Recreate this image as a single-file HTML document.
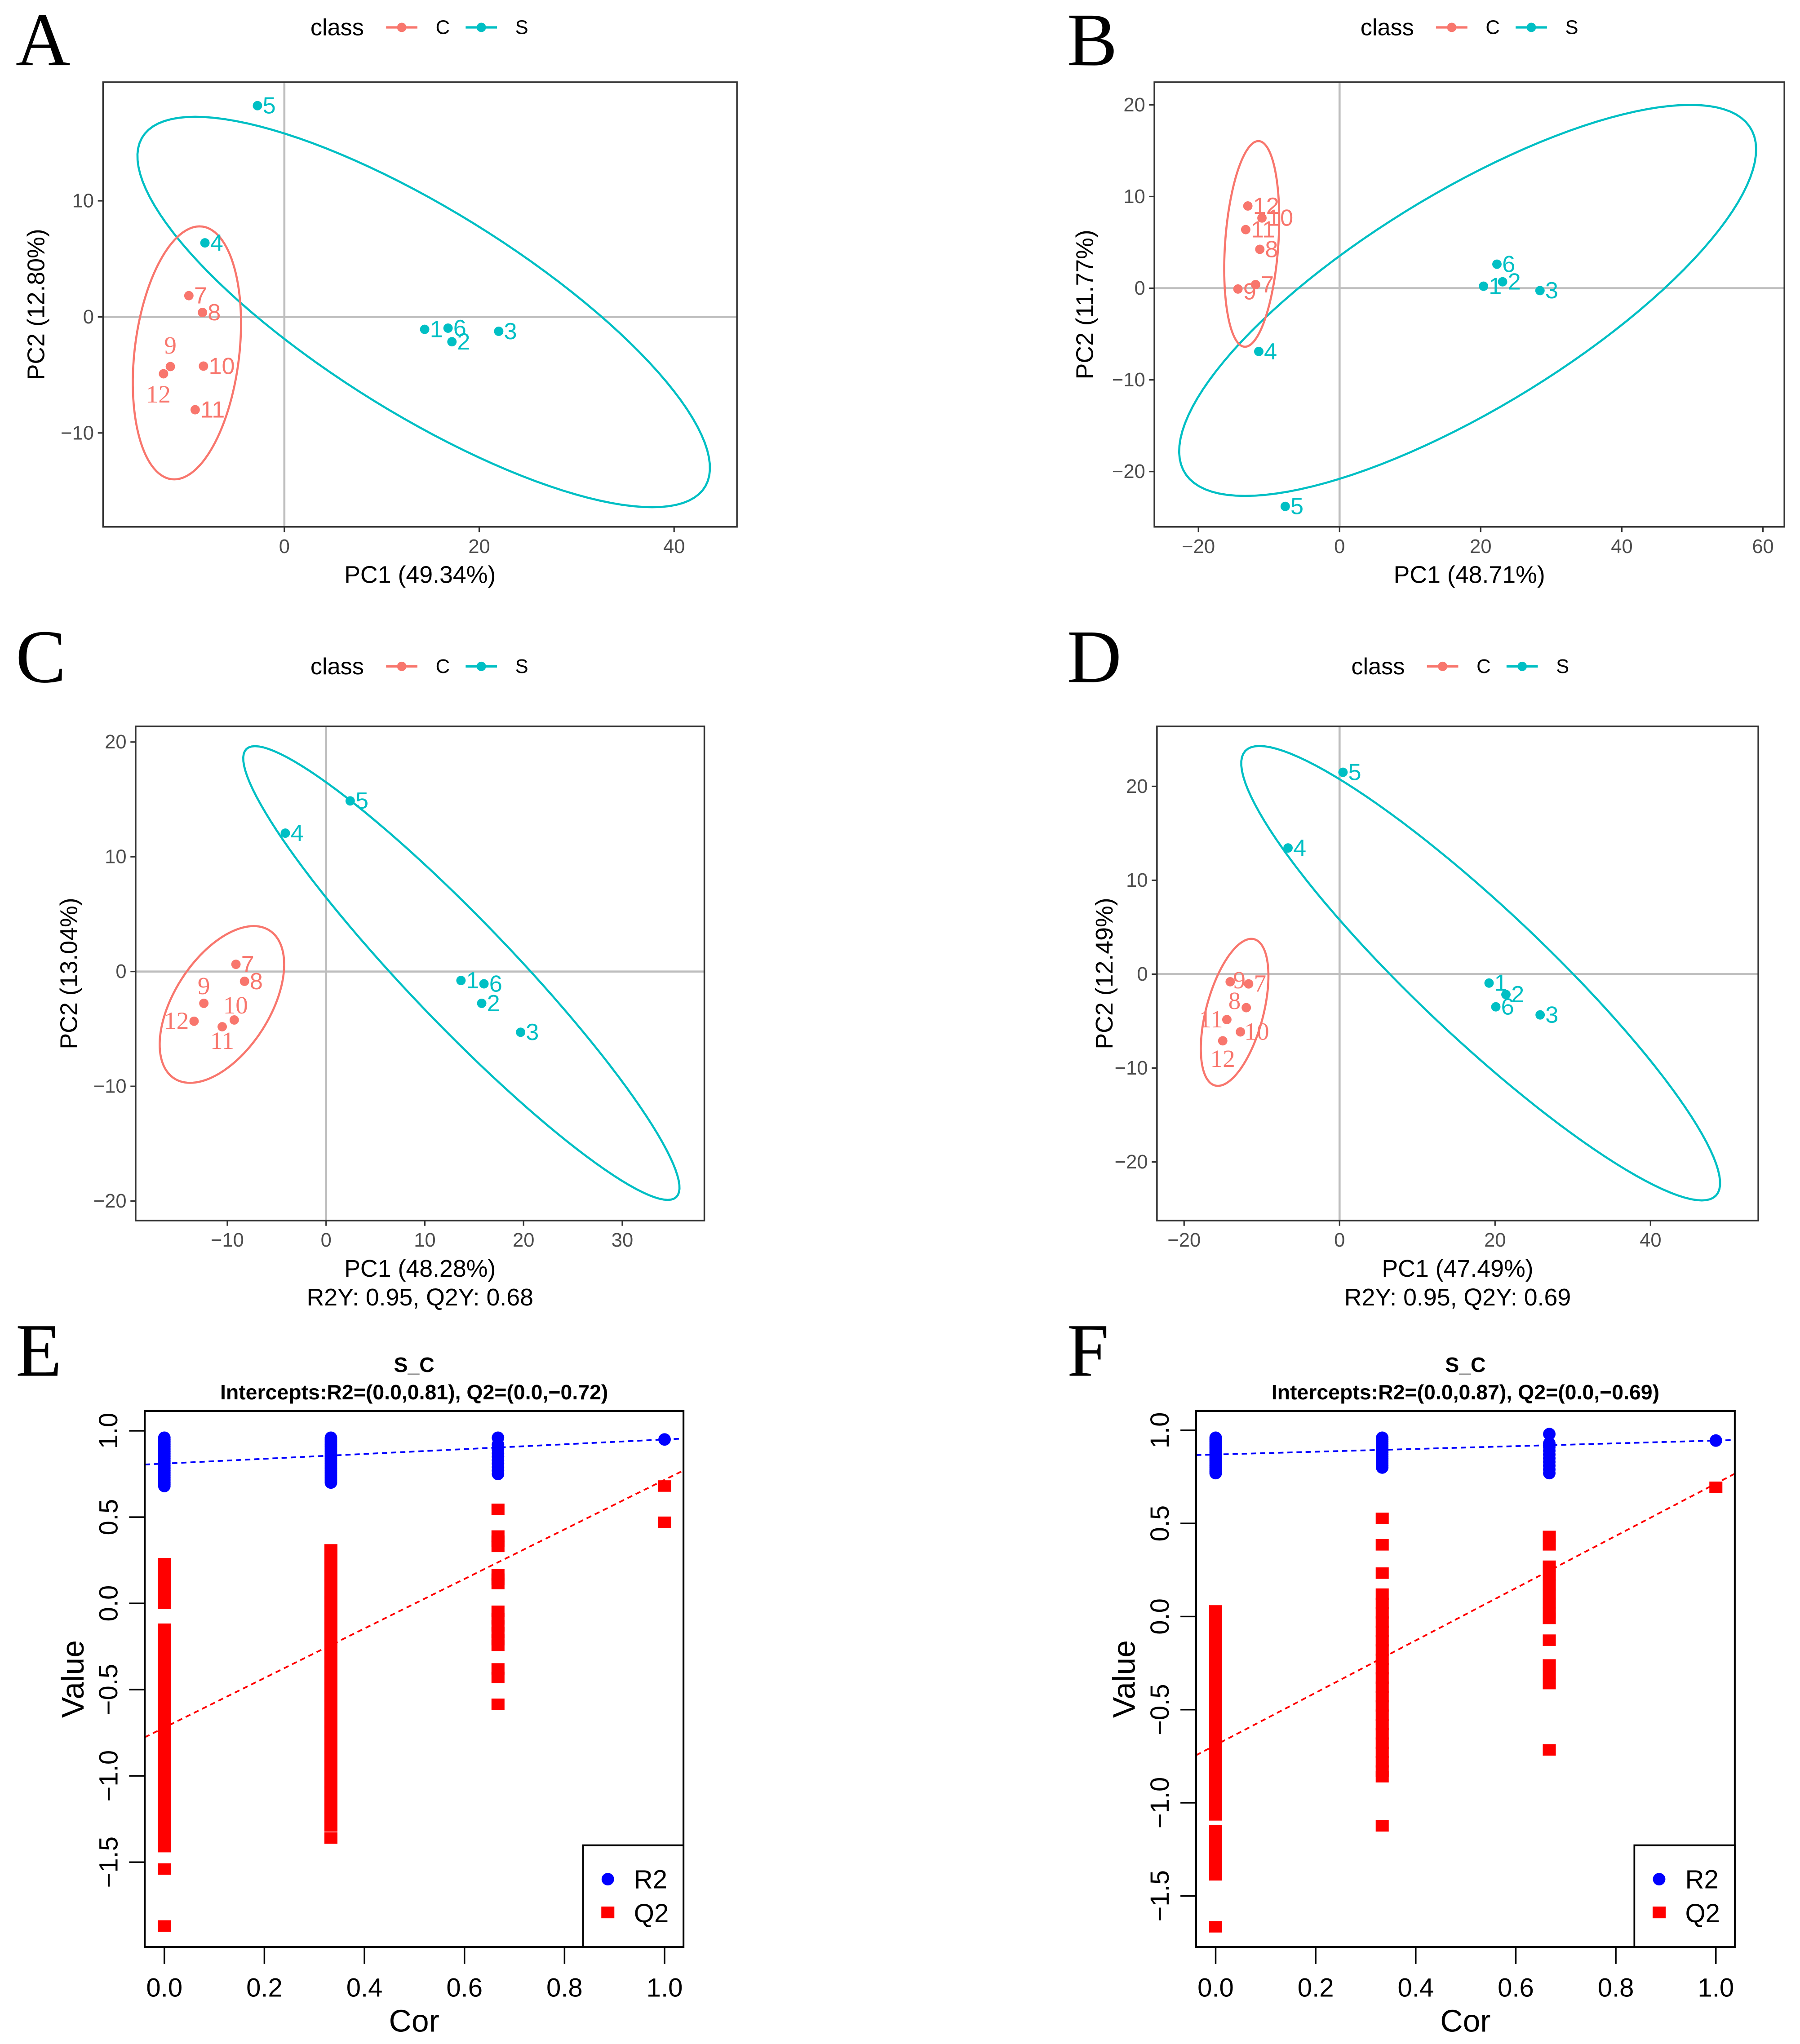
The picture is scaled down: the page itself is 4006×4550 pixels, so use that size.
<!DOCTYPE html>
<html><head><meta charset="utf-8"><style>
html,body{margin:0;padding:0;background:#fff;}
svg{display:block;}
</style></head><body>
<svg id="fig" xmlns="http://www.w3.org/2000/svg" width="4006" height="4550" viewBox="0 0 1380 1567.4" preserveAspectRatio="none" font-family="'Liberation Sans',sans-serif">
<rect x="0" y="0" width="1380" height="1567.4" fill="#fff"/>
</svg>
<script>
// ---------- PCA data ----------
const labelsPCA = ["1","2","3","4","5","6","7","8","9","10","11","12"];
const classPCA  = ["S","S","S","S","S","S","C","C","C","C","C","C"];
const pcaA_x = [14.4,17.2,22.0,-8.15,-2.76,16.8,-9.8,-8.4,-11.7,-8.3,-9.15,-12.4];
const pcaA_y = [-1.07,-2.14,-1.24,6.38,18.2,-0.97,1.83,0.38,-4.28,-4.24,-8.0,-4.9];
const pcaB_x = [20.4,23.1,28.4,-11.45,-7.7,22.3,-11.9,-11.3,-14.4,-11.0,-13.3,-13.0];
const pcaB_y = [0.22,0.7,-0.26,-6.9,-23.8,2.62,0.39,4.24,-0.09,7.66,6.39,8.97];
const pcaC_x = [13.66,15.76,19.7,-4.13,2.44,15.99,-9.13,-8.26,-12.38,-9.3,-10.52,-13.37];
const pcaC_y = [-0.78,-2.77,-5.29,12.06,14.87,-1.07,0.63,-0.85,-2.77,-4.22,-4.81,-4.33];
const pcaD_x = [19.23,21.4,25.8,-6.63,0.44,20.1,-11.7,-12.0,-14.07,-12.75,-14.5,-15.03];
const pcaD_y = [-0.95,-2.17,-4.34,13.44,21.5,-3.48,-1.04,-3.57,-0.81,-6.15,-4.84,-7.1];
// ellipses: [centerX, centerY, topVecX, topVecY, conjugateHalfWidth]
const ellA_S = [14.3,0.42,-23.45,16.82,17.7];
const ellA_C = [-10.0,-3.1,1.3,10.9,5.4];
const ellB_S = [18.15,-1.33,31.55,21.33,26.0];
const ellB_C = [-12.45,4.83,0.95,11.22,3.78];
const ellC_S = [13.7,-0.13,-20.9,19.77,7.16];
const ellC_C = [-10.55,-2.87,3.22,6.83,5.42];
const ellD_S = [18.15,0.1,-28.45,24.2,11.8];
const ellD_C = [-13.5,-4.07,2.15,7.83,3.78];
// ---------- permutation data ----------
const cors = [0,0.333,0.667,1];
const r2E = [
 [0.96,0.95,0.94,0.93,0.92,0.91,0.9,0.89,0.88,0.87,0.86,0.85,0.84,0.83,0.82,0.81,0.8,0.79,0.78,0.77,0.76,0.75,0.74,0.73,0.72,0.71,0.7,0.69,0.68],
 [0.96,0.95,0.94,0.93,0.92,0.91,0.9,0.89,0.88,0.87,0.86,0.85,0.84,0.83,0.82,0.81,0.8,0.79,0.78,0.77,0.76,0.75,0.74,0.73,0.72,0.71,0.7],
 [0.96,0.92,0.9,0.89,0.87,0.85,0.83,0.81,0.79,0.77,0.75],
 [0.95]];
const q2E = [
 [0.23,0.19,0.15,0.11,0.07,0.03,0.0,-0.15,-0.2,-0.25,-0.3,-0.35,-0.4,-0.45,-0.5,-0.55,-0.6,-0.65,-0.7,-0.75,-0.8,-0.85,-0.9,-0.95,-1.0,-1.03,-1.07,-1.11,-1.15,-1.2,-1.25,-1.3,-1.35,-1.41,-1.54,-1.87],
 [0.31,0.26,0.21,0.16,0.11,0.06,0.01,-0.04,-0.09,-0.14,-0.19,-0.24,-0.29,-0.34,-0.39,-0.44,-0.49,-0.54,-0.59,-0.64,-0.69,-0.74,-0.79,-0.84,-0.89,-0.94,-0.99,-1.04,-1.09,-1.14,-1.19,-1.24,-1.29,-1.36],
 [0.545,0.39,0.36,0.33,0.165,0.14,0.115,-0.046,-0.09,-0.13,-0.17,-0.21,-0.243,-0.38,-0.43,-0.585],
 [0.68,0.47]];
const r2LineE = [0.81,0.95];
const q2LineE = [-0.72,0.716];
const r2F = [
 [0.96,0.95,0.94,0.93,0.92,0.91,0.9,0.89,0.88,0.87,0.86,0.85,0.84,0.83,0.82,0.81,0.8,0.79,0.78,0.77],
 [0.96,0.95,0.94,0.93,0.92,0.91,0.9,0.89,0.88,0.87,0.86,0.85,0.84,0.83,0.82,0.81,0.8],
 [0.98,0.93,0.91,0.89,0.87,0.85,0.83,0.81,0.79,0.77],
 [0.945]];
const q2F = [
 [0.03,-0.02,-0.07,-0.12,-0.17,-0.22,-0.27,-0.32,-0.37,-0.42,-0.47,-0.52,-0.57,-0.62,-0.67,-0.72,-0.77,-0.82,-0.87,-0.92,-0.97,-1.02,-1.065,-1.15,-1.2,-1.25,-1.3,-1.35,-1.387,-1.666],
 [0.527,0.385,0.233,0.12,0.07,0.02,-0.03,-0.08,-0.13,-0.18,-0.23,-0.28,-0.33,-0.38,-0.43,-0.48,-0.53,-0.58,-0.63,-0.68,-0.73,-0.78,-0.83,-0.86,-1.124],
 [0.43,0.385,0.27,0.22,0.17,0.12,0.07,0.02,-0.01,-0.127,-0.26,-0.31,-0.36,-0.716],
 [0.694]];
const r2LineF = [0.87,0.945];
const q2LineF = [-0.69,0.714];
const permTicksX = ["0.0","0.2","0.4","0.6","0.8","1.0"];
const permTicksY = ["-1.5","-1.0","-0.5","0.0","0.5","1.0"];

const NS="http://www.w3.org/2000/svg";
const svg=document.getElementById('fig');
const SERIF="font-family:'Liberation Serif',serif";
const SANS="font-family:'Liberation Sans',sans-serif";
function mk(tag,attrs,parent){const e=document.createElementNS(NS,tag);for(const k in attrs)e.setAttribute(k,attrs[k]);(parent||svg).appendChild(e);return e;}
function txt(s,attrs,parent){const e=mk('text',attrs,parent);e.textContent=s;return e;}
const COL={C:"#F8766D",S:"#00BFC4"};

function letter(ch,x,y){const t=txt(ch,{x:x,y:y,style:SERIF,'font-size':58,fill:'#000'});

}

function pca(cfg){
 const g=mk('g',{});
 
 
 const b=cfg.box;
 const sx=v=>cfg.xz+v*cfg.xk, sy=v=>cfg.yz-v*cfg.yk;
 const cp=mk('clipPath',{id:'clip'+cfg.id},g);
 mk('rect',{x:b[0],y:b[2],width:b[1]-b[0],height:b[3]-b[2]},cp);
 const pg=mk('g',{'clip-path':'url(#clip'+cfg.id+')'},g);
 let l=mk('line',{x1:sx(0),x2:sx(0),y1:b[2],y2:b[3],stroke:'#bebebe','stroke-width':1.6},pg);
 
 
 l=mk('line',{x1:b[0],x2:b[1],y1:sy(0),y2:sy(0),stroke:'#bebebe','stroke-width':1.6},pg);
 
 
 [['S',cfg.ellS],['C',cfg.ellC]].forEach(([c,e])=>{
  let d='';for(let i=0;i<=120;i++){const t=i/120*2*Math.PI;
   const X=e[0]+e[2]*Math.cos(t)+e[4]*Math.sin(t), Y=e[1]+e[3]*Math.cos(t);
   d+=(i?'L':'M')+sx(X).toFixed(2)+','+sy(Y).toFixed(2);}
  const p=mk('path',{d:d+'Z',fill:'none',stroke:COL[c],'stroke-width':1.6},pg);
  
  
 });
 for(let i=0;i<labelsPCA.length;i++){
  const c=classPCA[i],X=sx(cfg.xs[i]),Y=sy(cfg.ys[i]);
  const pt=mk('circle',{cx:X,cy:Y,r:3.6,fill:COL[c]},g);
  
  
  const o=(cfg.lab&&cfg.lab[labelsPCA[i]])||[4,0,'start',0];
  const t=txt(labelsPCA[i],{x:X+o[0],y:Y+o[1]+6,'text-anchor':o[2],'font-size':o[3]?19:18,fill:COL[c],style:o[3]?SERIF:SANS},g);
  
  
 }
 const fr=mk('rect',{x:b[0],y:b[2],width:b[1]-b[0],height:b[3]-b[2],fill:'none',stroke:'#333','stroke-width':1.2},g);
 
 
 cfg.xt.forEach(v=>{mk('line',{x1:sx(v),x2:sx(v),y1:b[3],y2:b[3]+4,stroke:'#333','stroke-width':1.1},g);
  const t=txt(v<0?'\u2212'+(-v):String(v),{x:sx(v),y:b[3]+20,'text-anchor':'middle','font-size':15,fill:'#4d4d4d'},g);
  
  });
 cfg.yt.forEach(v=>{mk('line',{x1:b[0]-4,x2:b[0],y1:sy(v),y2:sy(v),stroke:'#333','stroke-width':1.1},g);
  const t=txt(v<0?'\u2212'+(-v):String(v),{x:b[0]-7,y:sy(v)+5,'text-anchor':'end','font-size':15,fill:'#4d4d4d'},g);
  
  });
 let t=txt(cfg.xl,{x:(b[0]+b[1])/2,y:b[3]+43,'text-anchor':'middle','font-size':18.5,fill:'#000'},g);
 
 
 if(cfg.sub){t=txt(cfg.sub,{x:(b[0]+b[1])/2,y:b[3]+65,'text-anchor':'middle','font-size':18.5,fill:'#000'},g);
  
  }
 const ym=(b[2]+b[3])/2;
 t=txt(cfg.yl,{x:cfg.ylx,y:ym,'text-anchor':'middle','font-size':18.5,fill:'#000',transform:'rotate(-90 '+cfg.ylx+' '+ym+')'},g);
 
 
 const lx=cfg.leg[0],ly=cfg.leg[1];
 const lg=mk('g',{},g);
 
 
 txt('class',{x:lx,y:ly+6,'font-size':18,fill:'#000'},lg);
 [['C',58],['S',119]].forEach(([c,off])=>{
  const k=mk('g',{},lg);
  
  
  mk('line',{x1:lx+off,x2:lx+off+24,y1:ly,y2:ly,stroke:COL[c],'stroke-width':1.8},k);
  mk('circle',{cx:lx+off+12,cy:ly,r:3.6,fill:COL[c]},k);
  txt(c,{x:lx+off+38,y:ly+5,'font-size':15,fill:'#000'},k);
 });
}

letter('A',12,50);letter('B',818,50);letter('C',12,523);letter('D',818,523);letter('E',12,1055);letter('F',818,1055);

pca({id:'a',box:[79,565,63,404],xz:218,xk:7.47,yz:243,yk:8.9,xt:[0,20,40],yt:[-10,0,10],xs:pcaA_x,ys:pcaA_y,ellS:ellA_S,ellC:ellA_C,
 xl:'PC1 (49.34%)',yl:'PC2 (12.80%)',ylx:34,leg:[238,21],
 lab:{'9':[0,-16,'middle',1],'12':[-4,16,'middle',1]}});
pca({id:'b',box:[885,1368,63,404],xz:1027,xk:5.41,yz:221,yk:7.03,xt:[-20,0,20,40,60],yt:[-20,-10,0,10,20],xs:pcaB_x,ys:pcaB_y,ellS:ellB_S,ellC:ellB_C,
 xl:'PC1 (48.71%)',yl:'PC2 (11.77%)',ylx:838,leg:[1043,21],
 lab:{'9':[4,2,'start',0]}});
pca({id:'c',box:[104,540,557,936],xz:250,xk:7.57,yz:745,yk:8.8,xt:[-10,0,10,20,30],yt:[-20,-10,0,10,20],xs:pcaC_x,ys:pcaC_y,ellS:ellC_S,ellC:ellC_C,
 xl:'PC1 (48.28%)',yl:'PC2 (13.04%)',ylx:59,leg:[238,511],sub:'R2Y: 0.95, Q2Y: 0.68',
 lab:{'9':[0,-13,'middle',1],'10':[1,-11,'middle',1],'12':[-4,0,'end',1],'11':[0,11,'middle',1]}});
pca({id:'d',box:[887,1348,557,936],xz:1027,xk:5.96,yz:747,yk:7.2,xt:[-20,0,20,40],yt:[-20,-10,0,10,20],xs:pcaD_x,ys:pcaD_y,ellS:ellD_S,ellC:ellD_C,
 xl:'PC1 (47.49%)',yl:'PC2 (12.49%)',ylx:853,leg:[1036,511],sub:'R2Y: 0.95, Q2Y: 0.69',
 lab:{'9':[7,-1,'middle',1],'8':[-9,-5,'middle',1],'11':[-3,0,'end',1],'10':[3,0,'start',1],'12':[0,14,'middle',1],'7':[4,0,'start',1]}});

function perm(cfg){
 const g=mk('g',{});
 
 
 const b=cfg.box;
 const sx=v=>cfg.xz+v*cfg.xk, sy=v=>cfg.yz-v*cfg.yk;
 const cp=mk('clipPath',{id:'pclip'+cfg.id},g);
 mk('rect',{x:b[0],y:b[2],width:b[1]-b[0],height:b[3]-b[2]},cp);
 const pg=mk('g',{'clip-path':'url(#pclip'+cfg.id+')'},g);
 cors.forEach((c,i)=>{cfg.q2[i].forEach(v=>{
  const r=mk('rect',{x:sx(c)-5,y:sy(v)-4.4,width:10,height:8.8,fill:'#ff0000'},pg);
  
  });});
 cors.forEach((c,i)=>{cfg.r2[i].forEach(v=>{
  const r=mk('circle',{cx:sx(c),cy:sy(v),r:4.8,fill:'#0000ff'},pg);
  
  });});
 const x0=(b[0]-cfg.xz)/cfg.xk, x1=(b[1]-cfg.xz)/cfg.xk;
 [['r2-regression-line',cfg.r2L,'#0000ff'],['q2-regression-line',cfg.q2L,'#ff0000']].forEach(([n,L,col])=>{
  const f=x=>L[0]+(L[1]-L[0])*x;
  const ln=mk('line',{x1:sx(x0),y1:sy(f(x0)),x2:sx(x1),y2:sy(f(x1)),stroke:col,'stroke-width':1.3,'stroke-dasharray':'4,3'},pg);
  
  
 });
 const fr=mk('rect',{x:b[0],y:b[2],width:b[1]-b[0],height:b[3]-b[2],fill:'none',stroke:'#000','stroke-width':1.4},g);
 
 
 permTicksX.forEach(s=>{const v=parseFloat(s);
  mk('line',{x1:sx(v),x2:sx(v),y1:b[3],y2:b[3]+13,stroke:'#000','stroke-width':1.2},g);
  const t=txt(s,{x:sx(v),y:1531,'text-anchor':'middle','font-size':20,fill:'#000'},g);
  
  });
 permTicksY.forEach(s=>{const v=parseFloat(s);
  mk('line',{x1:b[0]-12,x2:b[0],y1:sy(v),y2:sy(v),stroke:'#000','stroke-width':1.2},g);
  const tx=cfg.ylabx, ty=sy(v);
  const t=txt(s.replace('-','\u2212'),{x:tx,y:ty,'text-anchor':'middle','font-size':20,fill:'#000',transform:'rotate(-90 '+tx+' '+ty+')'},g);
  
  });
 const cx=(b[0]+b[1])/2;
 let t=txt('S_C',{x:cx,y:1052,'text-anchor':'middle','font-size':16,'font-weight':'bold',fill:'#000'},g);
 
 
 t=txt(cfg.sub,{x:cx,y:1073,'text-anchor':'middle','font-size':16,'font-weight':'bold',fill:'#000'},g);
 
 
 t=txt('Cor',{x:cx,y:1558,'text-anchor':'middle','font-size':24,fill:'#000'},g);
 
 
 const vx=cfg.vx, vy=(b[2]+b[3])/2;
 t=txt('Value',{x:vx,y:vy,'text-anchor':'middle','font-size':24,fill:'#000',transform:'rotate(-90 '+vx+' '+vy+')'},g);
 
 
 const lg=mk('g',{},g);
 
 
 mk('rect',{x:b[1]-77,y:b[3]-78,width:77,height:78,fill:'#fff',stroke:'#000','stroke-width':1.3},lg);
 const e1=mk('g',{},lg);
 
 
 mk('circle',{cx:b[1]-58,cy:b[3]-52,r:4.8,fill:'#0000ff'},e1);
 txt('R2',{x:b[1]-38,y:b[3]-45,'font-size':20,fill:'#000'},e1);
 const e2=mk('g',{},lg);
 
 
 mk('rect',{x:b[1]-63,y:b[3]-31,width:10,height:9,fill:'#ff0000'},e2);
 txt('Q2',{x:b[1]-38,y:b[3]-19,'font-size':20,fill:'#000'},e2);
}
perm({id:'e',box:[111,524,1082,1493],xz:126,xk:383.5,yz:1229.5,yk:132.3,r2:r2E,q2:q2E,r2L:r2LineE,q2L:q2LineE,
 sub:'Intercepts:R2=(0.0,0.81), Q2=(0.0,\u22120.72)',ylabx:90,vx:64});
perm({id:'f',box:[917,1330,1082,1493],xz:932,xk:383.5,yz:1239.6,yk:142.8,r2:r2F,q2:q2F,r2L:r2LineF,q2L:q2LineF,
 sub:'Intercepts:R2=(0.0,0.87), Q2=(0.0,\u22120.69)',ylabx:896,vx:870});
</script>
</body></html>
